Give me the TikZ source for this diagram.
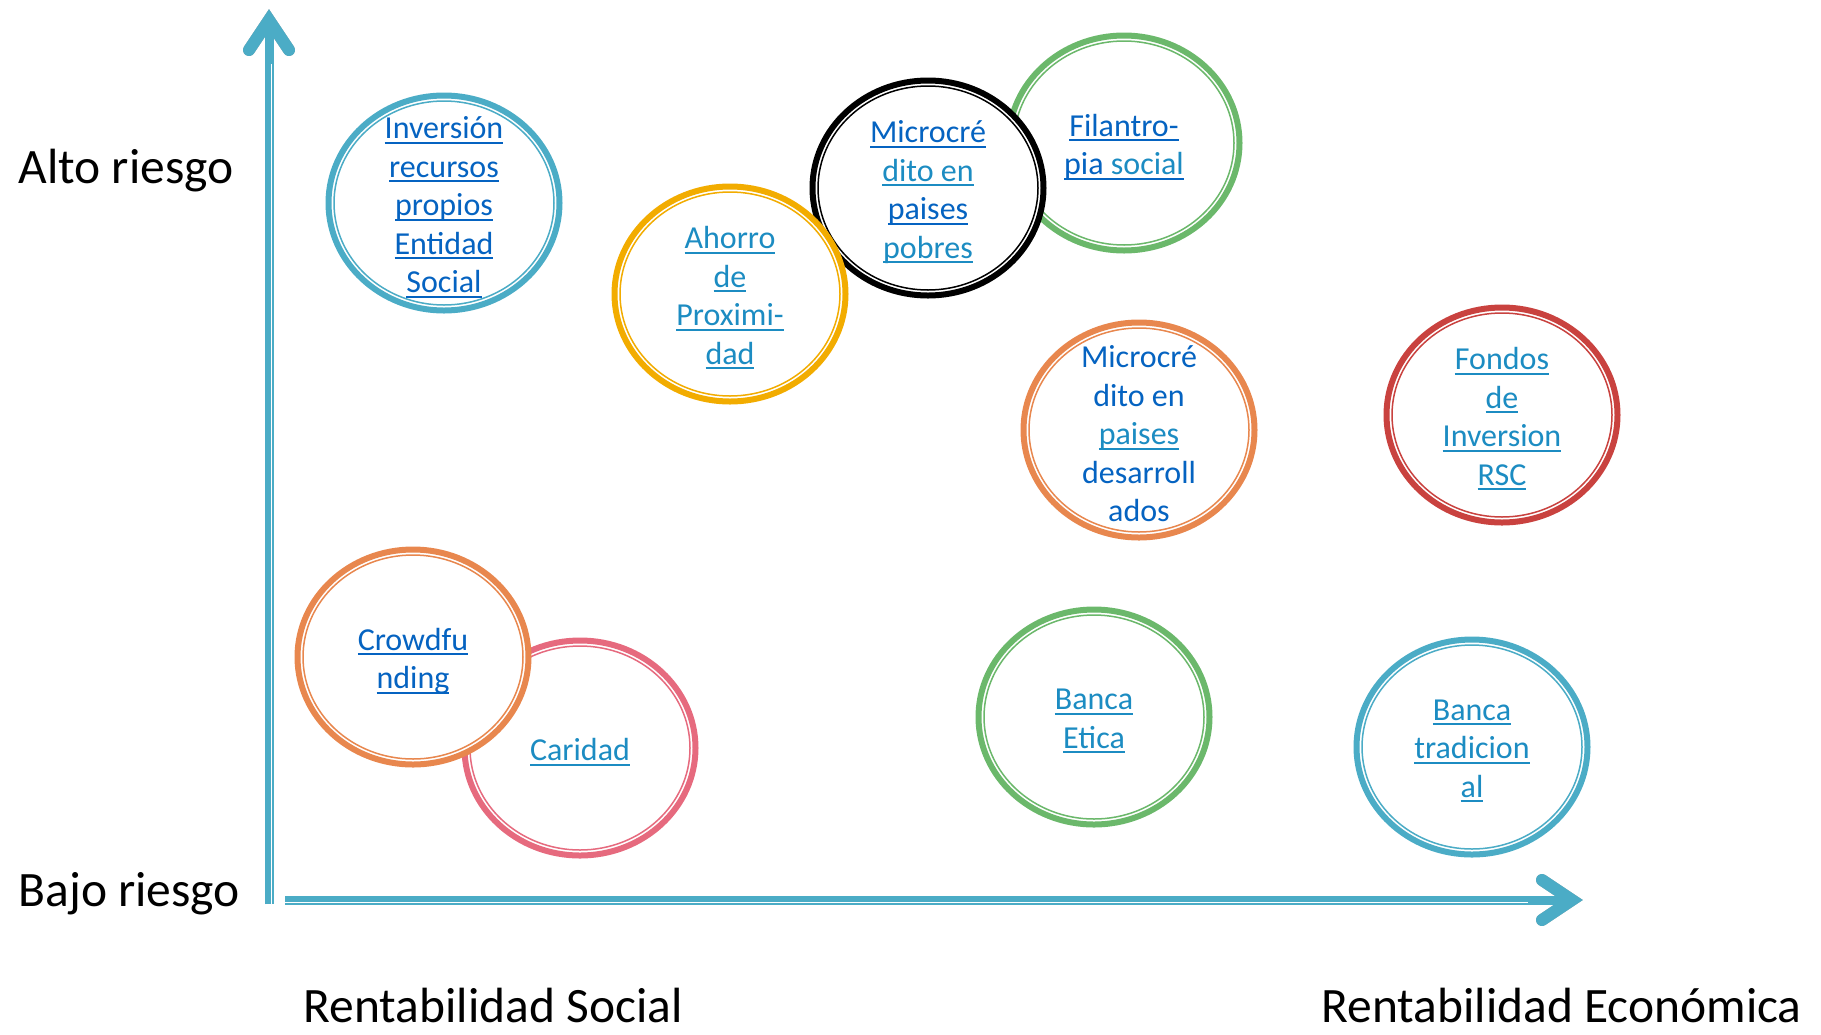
\documentclass[tikz,border=0pt]{standalone}
\usepackage{fontspec}
\setmainfont{Carlito}
\usetikzlibrary{shapes.geometric, arrows.meta, positioning}

\definecolor{aqua}{HTML}{4BACC6}
\definecolor{amarillo}{HTML}{F2AC00}
\definecolor{verde}{HTML}{6BB86B}
\definecolor{naranja}{HTML}{E8874E}
\definecolor{rojo}{HTML}{C9423F}
\definecolor{rosa}{HTML}{E66A7E}
\definecolor{enlace}{HTML}{0563C1}
\definecolor{enlaceclaro}{HTML}{1C8CC2}

% subrayado tipo hipervinculo
\newcommand\ulk[1]{\leavevmode\setbox0\hbox{#1}\rlap{\rule[-5pt]{\wd0}{2pt}}\box0}

\tikzset{
  anillo/.style={ellipse, draw=#1, line width=6pt, fill=white,
    minimum width=231pt, minimum height=215pt, inner sep=0pt,
    path picture={\draw[#1, line width=1.5pt] (path picture bounding box.center) ellipse (110pt and 102pt);}},
  texto/.style={align=center, inner sep=0pt, yshift=-4pt, font=\fontsize{32}{38.5}\selectfont, text=#1},
  eje/.style={line width=9pt, draw=#1, shorten >=14pt},
  punta/.style={line width=12pt, draw=#1, line cap=round, line join=miter},
  rotulo/.style={anchor=base west, font=\fontsize{49.5}{58}\selectfont}
}

\begin{document}
\begin{tikzpicture}[x=1pt, y=-1pt]
        \useasboundingbox (0,0) rectangle (1821,1034);
        % ejes
        \coordinate (origen-y) at (269,904);
        \coordinate (cima) at (269,9);
        \coordinate (origen-x) at (285,900);
        \coordinate (fin-x) at (1583,900);
        % sombra de los ejes
        \begin{scope}[shift={(2,3)}]
        \draw[eje=black!35] (origen-y) -- (cima);
        \draw[eje=black!35] (origen-x) -- (fin-x);
        \draw[punta=black!35] ([shift={(-20pt,-41pt)}]cima) -- ([yshift=-11pt]cima) -- ([shift={(20pt,-41pt)}]cima);
        \draw[punta=black!35] ([shift={(-41pt,20pt)}]fin-x) -- ([xshift=-11pt]fin-x) -- ([shift={(-41pt,-20pt)}]fin-x);
        \end{scope}
        \draw[eje=aqua] (origen-y) -- (cima);
        \draw[eje=aqua] (origen-x) -- (fin-x);
        \draw[punta=aqua] ([shift={(-20pt,-41pt)}]cima) -- ([yshift=-11pt]cima) -- ([shift={(20pt,-41pt)}]cima);
        \draw[punta=aqua] ([shift={(-41pt,20pt)}]fin-x) -- ([xshift=-11pt]fin-x) -- ([shift={(-41pt,-20pt)}]fin-x);
        \draw[white, line width=1.2pt] ([xshift=2.5pt]origen-y) -- ([xshift=2.5pt, yshift=-55pt]cima);
        \draw[white, line width=1.2pt] ([yshift=-2.5pt]origen-x) -- ([xshift=-55pt, yshift=-2.5pt]fin-x);
        % rotulos de los ejes
        \node[rotulo] (alto) at (15,183) {Alto riesgo};
        \node[rotulo] (bajo) at (15,906) {Bajo riesgo};
        \node[rotulo] (rsocial) at (300,1022) {Rentabilidad Social};
        \node[rotulo] (reconomica) at (1318,1022) {Rentabilidad Económica};
        % Inversion recursos propios
        \node[anillo=aqua] (inversion) at (444,203) {};
        \node[texto=enlace] (t-inversion) at (inversion) {\ulk{Inversión}\\\ulk{recursos}\\\ulk{propios}\\\ulk{Entidad}\\\ulk{Social}};
        % Filantropia social
        \node[anillo=verde] (filantropia) at (1124,143) {};
        \node[texto=enlace] (t-filantropia) at (filantropia) {\ulk{Filantro-}\\\ulk{pia \textcolor{enlaceclaro}{social}}};
        % Microcredito paises pobres
        \node[anillo=black] (micropobres) at (928,188) {};
        \node[texto=enlace] (t-micropobres) at (micropobres) {\ulk{Microcré}\\\textcolor{enlaceclaro}{\ulk{dito en}}\\\ulk{paises}\\\textcolor{enlaceclaro}{\ulk{pobres}}};
        % Ahorro de proximidad
        \node[anillo=amarillo] (ahorro) at (730,294) {};
        \node[texto=enlaceclaro] (t-ahorro) at (ahorro) {\ulk{Ahorro}\\\ulk{de}\\\ulk{Proximi-}\\\ulk{dad}};
        % Microcredito paises desarrollados
        \node[anillo=naranja] (microdesarr) at (1139,430) {};
        \node[texto=enlace] (t-microdesarr) at (microdesarr) {Microcré\\dito en\\\textcolor{enlaceclaro}{\ulk{paises}}\\desarroll\\ados};
        % Fondos de inversion RSC
        \node[anillo=rojo] (fondos) at (1502,415) {};
        \node[texto=enlaceclaro] (t-fondos) at (fondos) {\ulk{Fondos}\\\ulk{de}\\\ulk{Inversion}\\\ulk{RSC}};
        % Caridad
        \node[anillo=rosa] (caridad) at (580,748) {};
        \node[texto=enlaceclaro] (t-caridad) at (caridad) {\ulk{Caridad}};
        % Crowdfunding
        \node[anillo=naranja] (crowd) at (413,657) {};
        \node[texto=enlace] (t-crowd) at (crowd) {\ulk{Crowdfu}\\\ulk{nding}};
        % Banca etica
        \node[anillo=verde] (etica) at (1094,717) {};
        \node[texto=enlaceclaro] (t-etica) at (etica) {\ulk{Banca}\\\ulk{Etica}};
        % Banca tradicional
        \node[anillo=aqua] (tradicional) at (1472,747) {};
        \node[texto=enlaceclaro] (t-tradicional) at (tradicional) {\ulk{Banca}\\\ulk{tradicion}\\\ulk{al}};
    \end{tikzpicture}
\end{document}
